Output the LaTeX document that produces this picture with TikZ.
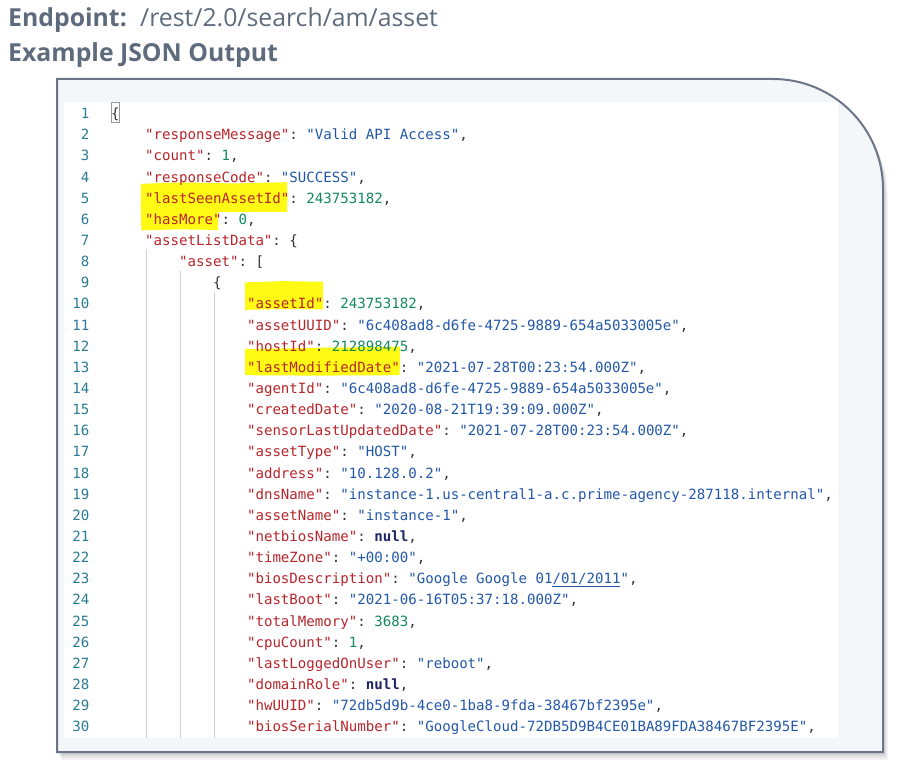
\documentclass[tikz,border=0pt]{standalone}
\usepackage{fontspec}
\setmainfont{Open Sans}
\setmonofont{DejaVu Sans Mono}
\usepackage{xcolor}
\usepackage{tikz}
\usetikzlibrary{calc}

\definecolor{headgray}{HTML}{5E6B7D}
\definecolor{framecol}{HTML}{6B7587}
\definecolor{panelbg}{HTML}{F4F7FA}
\definecolor{keyred}{HTML}{B8252B}
\definecolor{strblue}{HTML}{2358A8}
\definecolor{numgreen}{HTML}{128A5E}
\definecolor{nullnavy}{HTML}{1C2466}
\definecolor{punct}{HTML}{333333}
\definecolor{lnumcol}{HTML}{2A7B96}
\definecolor{markyellow}{HTML}{FFFA14}

\newcommand{\jkey}[1]{\textcolor{keyred}{"#1"}}
\newcommand{\jstr}[1]{\textcolor{strblue}{"#1"}}
\newcommand{\jnum}[1]{\textcolor{numgreen}{#1}}
\newcommand{\jnull}{\textcolor{nullnavy}{\bfseries null}}

\tikzset{
  head/.style = {anchor=base west, inner sep=0, text=headgray, font=\fontsize{24.8}{29}\selectfont},
  code/.style = {anchor=mid west, inner sep=0, yshift=-4pt, text=punct, font=\ttfamily\fontsize{14.1}{17}\selectfont},
  lnum/.style = {anchor=mid east, inner sep=0, yshift=-4pt, text=lnumcol, font=\ttfamily\fontsize{14.1}{17}\selectfont},
  marker/.style = {fill=markyellow},
  guide/.style = {draw=black!18, line width=0.9pt},
  bracebox/.style = {draw=black!40, line width=0.7pt},
  linkline/.style = {draw=strblue, line width=1pt}
}

\begin{document}
\begin{tikzpicture}[x=1pt, y=-1pt]

    \useasboundingbox (0,0) rectangle (897,767);

    % titles
    \node [head, font=\fontsize{24.8}{29}\selectfont\bfseries] (endlabel) at (8,27) {Endpoint:};
    \node [head] (endpath) at (140,27) {/rest/2.0/search/am/asset};
    \node [head, font=\fontsize{24.8}{29}\selectfont\bfseries] (outtitle) at (8,62) {Example JSON Output};

    % panel with soft shadow
    \foreach \s in {1,...,6} {
        \begin{scope}[shift={(\s*0.8,\s*1.3)}]
            \fill[black, opacity=0.04] (57,752) -- (57,79) -- (773,79) arc[start angle=-90, end angle=0, radius=110] -- (883,752) -- cycle;
        \end{scope}
    }
    \fill[panelbg] (57,752) -- (57,79) -- (773,79) arc[start angle=-90, end angle=0, radius=110] -- (883,752) -- cycle;
    \fill[white] (64,102) rectangle (838,738);
    \draw[framecol, line width=2pt] (57,752) -- (57,79) -- (773,79) arc[start angle=-90, end angle=0, radius=110] -- (883,752) -- cycle;

    \begin{scope}[shift={(111,112)}, x=8.49pt, y=-21.14pt]

    % highlights
    \fill[marker] (3.53,3.40) -- (8.2,3.33) -- (14.5,3.38) -- (20.73,3.32) -- (20.8,4.05) -- (20.7,4.72) -- (12.6,4.74) -- (12.62,5.58) -- (8.0,5.55) -- (3.58,5.6) -- (3.5,4.5) -- cycle;
    \fill[marker] (15.78,8.06) -- (20.2,8.0) -- (24.97,8.03) -- (25.0,9.34) -- (20.0,9.32) -- (15.8,9.36) -- cycle;
    \fill[marker] (15.78,11.22) -- (25.0,11.15) -- (34.04,11.1) -- (34.0,12.45) -- (24.0,12.47) -- (15.8,12.45) -- cycle;

    % indent guides
    \draw[guide] (4.12,6.5) -- (4.12,29.61);
    \draw[guide] (8.13,7.5) -- (8.13,29.61);
    \draw[guide] (12.13,8.5) -- (12.13,29.61);

    % line numbers
    \foreach \n in {1,...,30}
        \node [lnum] (n\n) at (-2.53,\n-1) {\n};

    % json lines
    \node [code] (l1) at (0,0) {\{};
    \node [code] (l2) at (4,1) {\jkey{responseMessage}: \jstr{Valid API Access},};
    \node [code] (l3) at (4,2) {\jkey{count}: \jnum{1},};
    \node [code] (l4) at (4,3) {\jkey{responseCode}: \jstr{SUCCESS},};
    \node [code] (l5) at (4,4) {\jkey{lastSeenAssetId}: \jnum{243753182},};
    \node [code] (l6) at (4,5) {\jkey{hasMore}: \jnum{0},};
    \node [code] (l7) at (4,6) {\jkey{assetListData}: \{};
    \node [code] (l8) at (8,7) {\jkey{asset}: [};
    \node [code] (l9) at (12,8) {\{};
    \node [code] (l10) at (16,9) {\jkey{assetId}: \jnum{243753182},};
    \node [code] (l11) at (16,10) {\jkey{assetUUID}: \jstr{6c408ad8-d6fe-4725-9889-654a5033005e},};
    \node [code] (l12) at (16,11) {\jkey{hostId}: \jnum{212898475},};
    \node [code] (l13) at (16,12) {\jkey{lastModifiedDate}: \jstr{2021-07-28T00:23:54.000Z},};
    \node [code] (l14) at (16,13) {\jkey{agentId}: \jstr{6c408ad8-d6fe-4725-9889-654a5033005e},};
    \node [code] (l15) at (16,14) {\jkey{createdDate}: \jstr{2020-08-21T19:39:09.000Z},};
    \node [code] (l16) at (16,15) {\jkey{sensorLastUpdatedDate}: \jstr{2021-07-28T00:23:54.000Z},};
    \node [code] (l17) at (16,16) {\jkey{assetType}: \jstr{HOST},};
    \node [code] (l18) at (16,17) {\jkey{address}: \jstr{10.128.0.2},};
    \node [code] (l19) at (16,18) {\jkey{dnsName}: \jstr{instance-1.us-central1-a.c.prime-agency-287118.internal},};
    \node [code] (l20) at (16,19) {\jkey{assetName}: \jstr{instance-1},};
    \node [code] (l21) at (16,20) {\jkey{netbiosName}: \jnull,};
    \node [code] (l22) at (16,21) {\jkey{timeZone}: \jstr{+00:00},};
    \node [code] (l23) at (16,22) {\jkey{biosDescription}: \jstr{Google Google 01/01/2011},};
    \node [code] (l24) at (16,23) {\jkey{lastBoot}: \jstr{2021-06-16T05:37:18.000Z},};
    \node [code] (l25) at (16,24) {\jkey{totalMemory}: \jnum{3683},};
    \node [code] (l26) at (16,25) {\jkey{cpuCount}: \jnum{1},};
    \node [code] (l27) at (16,26) {\jkey{lastLoggedOnUser}: \jstr{reboot},};
    \node [code] (l28) at (16,27) {\jkey{domainRole}: \jnull,};
    \node [code] (l29) at (16,28) {\jkey{hwUUID}: \jstr{72db5d9b-4ce0-1ba8-9fda-38467bf2395e},};
    \node [code] (l30) at (16,29) {\jkey{biosSerialNumber}: \jstr{GoogleCloud-72DB5D9B4CE01BA89FDA38467BF2395E},};

    % bracket match and link underline
    \draw[bracebox] (0.06,-0.47) rectangle (1.0,0.47);
    \draw[linkline] (52,22.45) -- (60,22.45);

    \end{scope}

\end{tikzpicture}
\end{document}
